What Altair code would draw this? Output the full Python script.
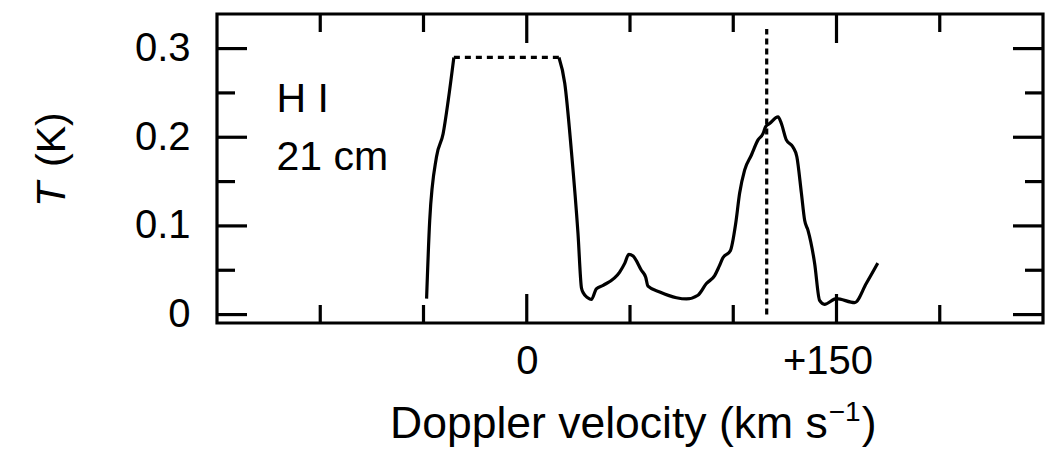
import altair as alt
import pandas as pd

W, H = 826, 309
FONT = "Liberation Sans"

# rising wing of the saturated HI line
v_rise = [-48.5, -47.0, -43.7, -40.5, -38.0, -35.3]
t_rise = [0.018, 0.106, 0.178, 0.204, 0.242, 0.290]

# saturated (off-scale) top, drawn dashed
v_top = [-35.3, 15.6]
t_top = [0.290, 0.290]

# rest of the spectrum
v_fall = [15.6, 18.4, 21.6, 24.8, 26.5, 27.5, 29.5, 31.3, 33.7, 37.0, 45.0, 47.5,
          49.4, 51.5, 55.5, 57.6, 58.7, 64.4, 72.5, 77.3, 82.9, 87.0, 91.0, 93.1,
          95.0, 98.6, 101.2, 103.1, 105.5, 108.8, 112.0, 114.4, 115.7, 117.6,
          121.7, 123.3, 125.7, 128.9, 130.8, 133.0, 134.6, 136.2, 139.4, 141.8,
          144.2, 149.9, 158.8, 164.4, 170.0]
t_fall = [0.290, 0.261, 0.185, 0.092, 0.030, 0.024, 0.019, 0.017, 0.029, 0.033,
          0.048, 0.058, 0.068, 0.066, 0.050, 0.042, 0.032, 0.0255, 0.019, 0.0176,
          0.0218, 0.035, 0.044, 0.054, 0.064, 0.072, 0.103, 0.137, 0.163, 0.180,
          0.197, 0.204, 0.212, 0.2155, 0.223, 0.2155, 0.197, 0.189, 0.178, 0.137,
          0.106, 0.095, 0.058, 0.016, 0.0116, 0.018, 0.0135, 0.035, 0.058]

# vertical dotted marker
v_marker = [116.2, 116.2]
t_marker = [0.0, 0.322]

# ticks
x_major = [0, 150]
x_minor = [-100, -50, 50, 100, 200]
y_major = [0, 0.1, 0.2, 0.3]
y_minor = [0.05, 0.15, 0.25]

# annotation
ann_text = ["H I", "21 cm"]
ann_v = [-121.2, -121.2]
ann_t = [0.2287, 0.163]

# axis title pieces (main text, superscript, closing parenthesis)
x_title_main = "Doppler velocity (km s"
x_title_sup = "\u22121"
x_title_end = ")"
y_title_var = "T"
y_title_unit = "(K)"

xs = alt.Scale(domain=[-150, 250], nice=False, zero=False)
ys = alt.Scale(domain=[-0.0095, 0.339], nice=False, zero=False)

xaxis = alt.Axis(values=x_major, title=None, grid=False, ticks=False, domain=False,
                 labelFont=FONT, labelFontSize=40, labelColor="black", labelPadding=18,
                 labelOverlap=False,
                 labelExpr="datum.value == 150 ? '+150' : datum.label",
                 labelOffset={"condition": {"test": "datum.value == 150", "value": -9}, "value": 0})
yaxis = alt.Axis(values=y_major, title=None, grid=False, ticks=False, domain=False,
                 labelFont=FONT, labelFontSize=40, labelColor="black", labelPadding=27,
                 labelOverlap=False,
                 labelExpr="datum.value == 0 ? '0' : format(datum.value, '.1f')")

X = lambda: alt.X("v:Q", scale=xs, axis=xaxis)
Y = lambda: alt.Y("T:Q", scale=ys, axis=yaxis)

df_rise = pd.DataFrame({"v": v_rise, "T": t_rise})
df_top = pd.DataFrame({"v": v_top, "T": t_top})
df_fall = pd.DataFrame({"v": v_fall, "T": t_fall})
df_mark = pd.DataFrame({"v": v_marker, "T": t_marker})

LW = 3.2
rise = alt.Chart(df_rise).mark_line(color="black", strokeWidth=LW, interpolate="monotone").encode(x=X(), y=Y())
fall = alt.Chart(df_fall).mark_line(color="black", strokeWidth=LW, interpolate="monotone").encode(x=X(), y=Y())
top = alt.Chart(df_top).mark_line(color="black", strokeWidth=LW, strokeDash=[6, 5]).encode(x=X(), y=Y())
mark = alt.Chart(df_mark).mark_line(color="black", strokeWidth=LW, strokeDash=[6, 4]).encode(x=X(), y=Y())


def xticks(vals, length):
    d = pd.DataFrame({"v": vals})
    b = alt.Chart(d).mark_rule(color="black", strokeWidth=3.2).encode(
        x=X(), y=alt.value(H), y2=alt.value(H - length))
    t = alt.Chart(d).mark_rule(color="black", strokeWidth=3.2).encode(
        x=X(), y=alt.value(0), y2=alt.value(length))
    return [b, t]


def yticks(vals, length):
    d = pd.DataFrame({"T": vals})
    l = alt.Chart(d).mark_rule(color="black", strokeWidth=3.2).encode(
        y=Y(), x=alt.value(0), x2=alt.value(length))
    r = alt.Chart(d).mark_rule(color="black", strokeWidth=3.2).encode(
        y=Y(), x=alt.value(W), x2=alt.value(W - length))
    return [l, r]


ticks = xticks(x_major, 29) + xticks(x_minor, 18) + yticks(y_major, 30) + yticks(y_minor, 18)

ann = alt.Chart(pd.DataFrame({"v": ann_v, "T": ann_t, "label": ann_text})).mark_text(
    font=FONT, fontSize=41, align="left", baseline="alphabetic", color="black"
).encode(x=X(), y=Y(), text="label:N")

# x axis title built from three text pieces
TS = 44.5
x0 = 173
main_w = 9.835 * TS
t_main = alt.Chart(pd.DataFrame({"label": [x_title_main]})).mark_text(
    font=FONT, fontSize=TS, align="left", baseline="alphabetic", color="black"
).encode(x=alt.value(x0), y=alt.value(424), text="label:N")
t_sup = alt.Chart(pd.DataFrame({"label": [x_title_sup]})).mark_text(
    font=FONT, fontSize=28, align="left", baseline="alphabetic", color="black"
).encode(x=alt.value(x0 + main_w + 1), y=alt.value(407), text="label:N")
t_end = alt.Chart(pd.DataFrame({"label": [x_title_end]})).mark_text(
    font=FONT, fontSize=TS, align="left", baseline="alphabetic", color="black"
).encode(x=alt.value(x0 + main_w + 1 + 33), y=alt.value(424), text="label:N")

ytitle_T = alt.Chart(pd.DataFrame({"label": [y_title_var]})).mark_text(
    font=FONT, fontSize=41, fontStyle="italic", align="left", baseline="alphabetic",
    angle=270, color="black"
).encode(x=alt.value(-152), y=alt.value(193), text="label:N")
ytitle_K = alt.Chart(pd.DataFrame({"label": [y_title_unit]})).mark_text(
    font=FONT, fontSize=41, align="left", baseline="alphabetic",
    angle=270, color="black"
).encode(x=alt.value(-152), y=alt.value(153), text="label:N")

chart = alt.layer(rise, top, fall, mark, *ticks, ann, t_main, t_sup, t_end,
                  ytitle_T, ytitle_K).properties(
    width=W, height=H,
    autosize=alt.AutoSizeParams(type="none"),
    padding={"left": 217, "top": 14, "right": 11, "bottom": 131},
    background="white",
).configure_view(stroke="black", strokeWidth=3.2)

chart.save("out.html", embed_options={"renderer": "svg", "actions": False})
